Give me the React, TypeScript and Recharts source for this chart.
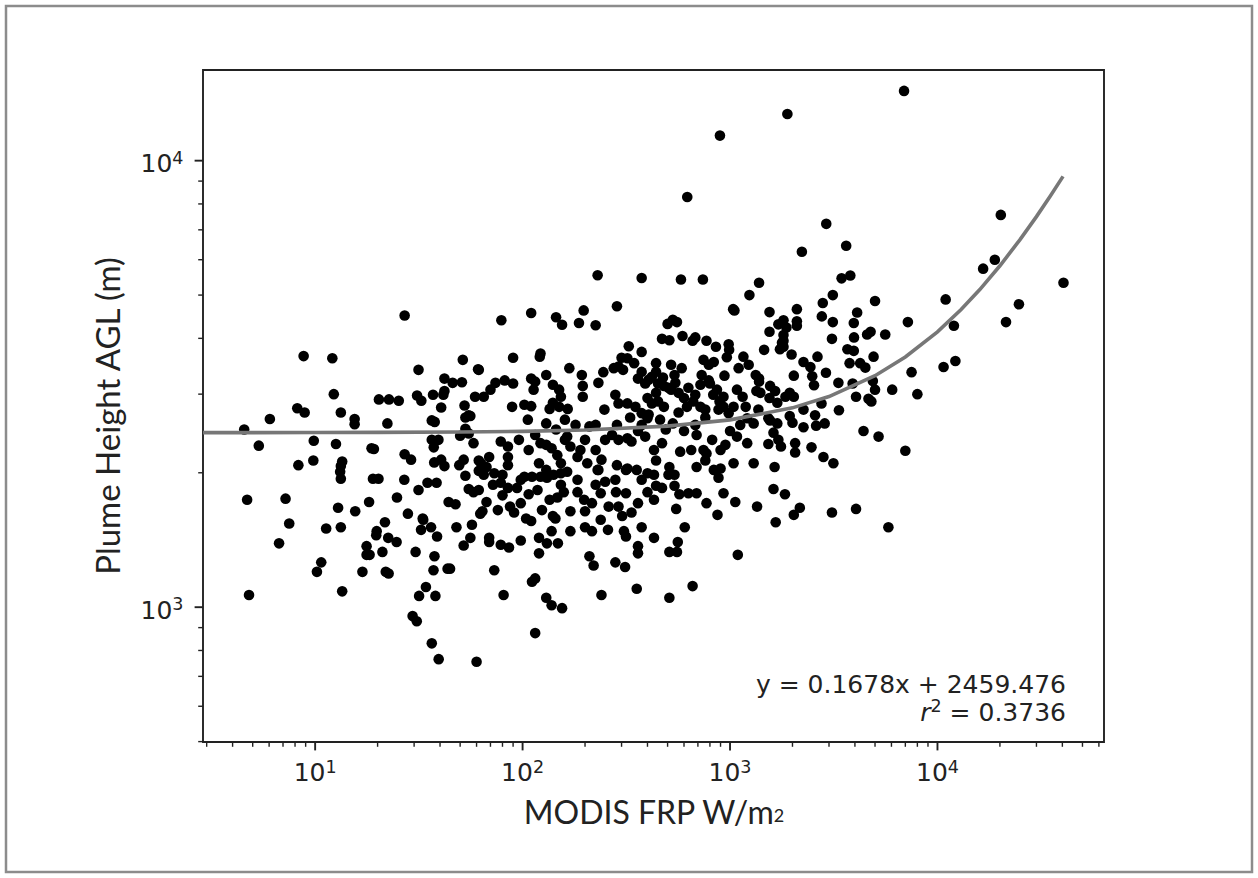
import { ScatterChart, Scatter, XAxis, YAxis, ReferenceArea } from "recharts"

// MODIS FRP (W/m2) vs plume height AGL (m)
const observations: [number, number][] = [
  [6900, 14330], [1890, 12720], [894, 11380], [622, 8290], [20200, 7560], [2910, 7220], [3630, 6450], [2220, 6250], [18900, 6000],
  [3450, 5450], [3800, 5530], [16600, 5730], [40500, 5330], [3130, 5000], [2800, 4800], [5000, 4850], [10950, 4890], [24700, 4770],
  [1550, 4580], [2100, 4650], [4100, 4570], [2770, 4480], [3130, 4350], [1810, 4390], [2100, 4370], [1710, 4300], [1870, 4230],
  [2100, 4270], [3950, 4330], [7200, 4350], [12000, 4270], [21400, 4350], [1550, 4140], [1810, 4070], [1810, 3950], [3100, 3990],
  [3960, 4020], [4580, 4080], [4760, 4140], [5600, 4080], [1460, 3770], [1740, 3780], [1810, 3830], [1780, 3910], [1980, 3680],
  [3680, 3780], [3950, 3750], [2640, 3640], [4920, 3640], [2260, 3540], [2440, 3450], [3770, 3520], [4240, 3520], [4490, 3440],
  [2030, 3300], [2490, 3290], [2540, 3140], [2900, 3350], [1380, 3250], [1340, 3050], [1400, 3020], [1560, 3130], [1650, 3050],
  [1940, 3020], [1850, 2960], [2030, 2960], [3330, 3180], [3900, 3170], [4880, 3210], [5000, 3070], [6050, 3070], [7500, 3360],
  [8000, 3000], [10700, 3450], [12200, 3560], [4050, 2960], [4650, 2930], [4800, 2890], [1690, 2870], [2760, 2860], [2260, 2770],
  [2570, 2690], [3350, 2760], [1530, 2650], [1560, 2620], [1690, 2580], [1940, 2680], [2000, 2590], [2260, 2530], [2600, 2550],
  [2860, 2580], [1620, 2460], [1710, 2370], [1760, 2290], [1530, 2320], [2060, 2330], [2060, 2220], [2470, 2280], [2820, 2170],
  [3150, 2100], [4400, 2480], [5200, 2410], [7000, 2240], [1640, 2060], [1620, 1840], [1840, 1790], [1660, 1550], [2030, 1610],
  [2170, 1670], [3100, 1630], [4050, 1660], [5800, 1510],
  [230, 5540], [375, 5460], [580, 5420], [740, 5420], [1380, 5330], [1240, 5000], [1035, 4650], [1050, 4620], [285, 4720],
  [197, 4620], [110, 4560], [79, 4390], [145, 4460], [155, 4290], [187, 4330], [225, 4280], [500, 4310], [530, 4400], [555, 4350],
  [470, 3990], [510, 3960], [590, 4050], [660, 3950], [680, 4020], [770, 3950], [855, 3830], [985, 3880], [990, 3770], [965, 3630],
  [325, 3840], [375, 3730], [300, 3620], [90, 3620], [122, 3700], [121, 3640], [61, 3410], [168, 3430], [193, 3310], [245, 3360],
  [232, 3180], [275, 3430], [290, 3460], [305, 3400], [345, 3520], [320, 3610], [440, 3520], [520, 3490], [585, 3430], [540, 3310],
  [745, 3580], [835, 3540], [790, 3490], [1160, 3640], [1100, 3430], [1230, 3490], [1330, 3310], [1380, 3200], [730, 3310],
  [790, 3220], [940, 3300], [82, 3220], [74, 3180], [70, 3070], [65, 2960], [55, 2690], [90, 3170], [110, 3250], [115, 3200],
  [113, 3070], [130, 3310], [140, 3150], [150, 3070], [153, 2960], [140, 2870], [195, 3130], [195, 2960], [89, 2810], [102, 2840],
  [110, 2820], [135, 2780], [150, 2810], [165, 2780], [248, 2770], [280, 2990], [290, 2860], [320, 2860], [350, 2810], [375, 2720],
  [360, 3250], [390, 3170], [420, 3280], [450, 3170], [480, 3130], [440, 3020], [400, 2940], [420, 2860], [450, 2890], [480, 2810],
  [400, 2650], [520, 3070], [565, 3020], [600, 2940], [620, 2810], [565, 2730], [665, 2890], [720, 2810], [760, 2770], [800, 3170],
  [865, 3070], [930, 2960], [890, 2890], [930, 2810], [985, 2720], [1040, 2810], [1080, 3070], [1150, 2960], [1190, 2810],
  [1210, 2650], [1300, 2580],
  [63, 2100], [69, 2170], [78.5, 2350], [85, 2290], [85, 2170], [96, 2370], [107, 2250], [122, 2330], [130, 2580], [138, 2270],
  [147, 2190], [153, 2100], [160, 2630], [164, 2410], [170, 2290], [184, 2170], [190, 2250], [205, 2100], [210, 2540], [225, 2560],
  [240, 2140], [270, 2430], [290, 2370], [320, 2390], [335, 2350], [360, 2480], [390, 2410], [430, 2250], [470, 2330], [490, 2500],
  [530, 2580], [575, 2230], [600, 2480], [690, 2430], [745, 2250], [770, 2210], [820, 2370], [900, 2250], [1000, 2480], [1080, 2410],
  [1210, 2330], [1300, 2100], [1040, 2100],
  [67, 2060], [65, 1980], [73, 1995], [80, 1980], [85, 2080], [72, 1880], [78.5, 1900], [85, 1850], [94, 1850], [102, 1960],
  [111, 1960], [122, 1960], [131, 1950], [141, 1980], [153, 1995], [164, 2010], [120, 2100], [230, 2030], [285, 2080], [320, 2045],
  [355, 2030], [400, 1995], [430, 1980], [510, 2060], [540, 1980], [690, 2060], [835, 2030], [900, 2045], [880, 1950],
  [67, 1720], [64, 1640], [76, 1650], [80, 1780], [87, 1680], [91, 1630], [98, 1710], [107, 1790], [104, 1580], [110, 1560],
  [118, 1830], [124, 1650], [135, 1740], [147, 1760], [140, 1600], [144, 1580], [158, 1810], [170, 1640], [184, 1930], [184, 1810],
  [198, 1740], [200, 1640], [216, 1710], [225, 1880], [238, 1800], [250, 1910], [260, 1680], [282, 1810], [290, 1680], [302, 1600],
  [315, 1800], [335, 1630], [360, 1710], [400, 1810], [430, 1740], [440, 1870], [470, 1850], [540, 1870], [550, 1660], [570, 1790],
  [630, 1800], [690, 1800], [770, 1710], [870, 1610], [930, 1800], [1060, 1720], [1350, 1680],
  [69, 1430], [69, 1400], [78.5, 1380], [86, 1360], [98, 1410], [120, 1430], [120, 1320], [131, 1390], [148, 1390], [138, 1480],
  [170, 1480], [200, 1510], [216, 1480], [238, 1570], [258, 1490], [308, 1480], [315, 1440], [375, 1510], [430, 1430], [360, 1370],
  [360, 1320], [210, 1300], [220, 1240], [280, 1260], [312, 1230], [510, 1330], [555, 1330], [560, 1400], [605, 1510], [1090, 1310],
  [73, 1210], [81, 1065], [111, 1140], [115, 1160], [130, 1050], [138, 1010], [155, 995], [115, 875], [240, 1065], [355, 1100],
  [510, 1050], [660, 1115],
  [27, 4500], [8.8, 3650], [12.1, 3610], [31.5, 3400], [51.5, 3580], [61.5, 3400], [42, 3250], [46, 3180], [51, 3190], [12.3, 3000],
  [20.3, 2920], [22.7, 2920], [25.3, 2900], [31, 2980], [32.5, 2900], [37, 2990], [41.5, 2990], [42, 3050], [40.5, 2800], [52.5, 2830],
  [59, 2960], [8.2, 2790], [8.9, 2730], [6.05, 2640], [4.55, 2500], [13.3, 2730], [15.5, 2640], [15.5, 2570], [22.3, 2580], [36.5, 2620],
  [37.7, 2600], [56, 2680], [53, 2660], [53, 2510], [55, 2450], [50, 2420], [5.35, 2300], [9.85, 2360], [12.6, 2320], [18.7, 2270],
  [19.2, 2260], [36.5, 2370], [39.3, 2370], [37.3, 2280], [58, 2330], [8.3, 2080], [9.8, 2130], [13.5, 2120], [13.3, 2070], [13.2, 2010],
  [13.3, 1940], [27, 2200], [29, 2140], [37.5, 2110], [40.5, 2140], [42, 2070], [52, 2140], [49.5, 2080], [53, 1970], [61.5, 2020],
  [61.5, 2130], [19, 1940], [20.2, 1940], [26.9, 1930], [34.8, 1900], [38.5, 1900], [31.5, 1830], [55, 1840], [58, 1810], [61.5, 1830],
  [4.7, 1740], [7.2, 1750], [18.2, 1720], [24.8, 1760], [44, 1720], [47.5, 1700], [12.9, 1670], [15.6, 1640], [28, 1620], [33, 1580],
  [7.5, 1540], [6.7, 1390], [11.3, 1500], [13.3, 1510], [21.7, 1550], [19.8, 1480], [19.7, 1450], [22.5, 1430], [24.7, 1400], [17.7, 1370],
  [17.7, 1310], [18.3, 1310], [21.1, 1330], [10.7, 1260], [10.2, 1200], [16.9, 1200], [21.9, 1200], [22.6, 1190], [13.5, 1085], [4.8, 1065],
  [33.2, 1570], [36.2, 1510], [32.4, 1490], [38.7, 1440], [30.5, 1330], [37.6, 1300], [37.2, 1210], [43.5, 1220], [44.7, 1220], [34.2, 1110],
  [31.7, 1060], [38, 1060], [29.5, 955], [30.9, 930], [36.5, 830], [39.4, 765], [60, 755], [48, 1510], [57, 1530], [56, 1430],
  [52, 1375], [62.5, 1620],
  // densest part of the cloud, 100-1500 W/m2
  [375, 3365], [405, 3230], [440, 3365], [475, 3270], [505, 3100], [545, 3180], [630, 3100], [680, 2990], [720, 3150], [830, 2990],
  [880, 2770], [760, 2660], [680, 2560], [460, 2630], [405, 2700], [375, 2560], [330, 2660], [285, 2560], [250, 2370], [225, 2250],
  [200, 2370], [180, 2560], [160, 2370], [145, 2500], [130, 2310], [115, 2430], [106, 2630], [315, 2030], [375, 1930], [440, 2130],
  [505, 1980], [280, 1930], [232, 2030], [153, 1880], [130, 2030], [98, 1930], [650, 2250], [760, 2130], [950, 2310], [1120, 2560],
  [1370, 2770], [1550, 2940],
]

// linear fit printed on the figure
const fitSlope = 0.1678
const fitIntercept = 2459.476
const fitR2 = 0.3736
const fitFrp = [2.88, 5, 10, 20, 50, 100, 200, 500, 1000, 2000, 3000, 5000, 7000, 10000, 13000, 16000, 20000, 25000, 30000, 35000, 40300]

const xMajorTicks = [10, 100, 1000, 10000]
const xMinorTicks = [3, 4, 5, 6, 7, 8, 9, 20, 30, 40, 50, 60, 70, 80, 90, 200, 300, 400, 500, 600, 700, 800, 900,
  2000, 3000, 4000, 5000, 6000, 7000, 8000, 9000, 20000, 30000, 40000, 50000, 60000]
const yMajorTicks = [1000, 10000]
const yMinorTicks = [500, 600, 700, 800, 900, 2000, 3000, 4000, 5000, 6000, 7000, 8000, 9000]

const xDomain = [2.88, 63500]
const yDomain = [499, 15960]

const scatterData = observations.map(([frp, height]) => ({ frp, height }))
const fitData = fitFrp.map((frp) => ({ frp, height: fitSlope * frp + fitIntercept }))

const ink = "#222222"
const tickFont = "DejaVu Sans"
const labelFont = "Lato"

function XTick(props: any) {
  const { x, y, payload } = props
  const major = xMajorTicks.includes(payload.value)
  return (
    <g>
      <line x1={x} x2={x} y1={y} y2={y + (major ? 8.4 : 4.8)} stroke={ink} strokeWidth={major ? 1.9 : 1.4} />
      {major && (
        <text x={x} y={y + 39} textAnchor="middle" fontFamily={tickFont} fontSize={25} fill={ink}>
          10<tspan dy={-8.5} fontSize={17.5}>{Math.round(Math.log10(payload.value))}</tspan>
        </text>
      )}
    </g>
  )
}

function YTick(props: any) {
  const { x, y, payload } = props
  const major = yMajorTicks.includes(payload.value)
  return (
    <g>
      <line x1={x - (major ? 8.4 : 4.8)} x2={x} y1={y} y2={y} stroke={ink} strokeWidth={major ? 1.9 : 1.4} />
      {major && (
        <text x={x - 19.5} y={y + 11.5} textAnchor="end" fontFamily={tickFont} fontSize={25} fill={ink}>
          10<tspan dy={-8.5} fontSize={17.5}>{Math.round(Math.log10(payload.value))}</tspan>
        </text>
      )}
    </g>
  )
}

const Dot = (props: any) => <circle cx={props.cx} cy={props.cy} r={5.3} fill="#000" />
const NoDot = () => <g />

export default function App() {
  return (
    <div style={{ position: "absolute", left: 0, top: 0, width: 1258, height: 878, background: "#fff" }}>
      <ScatterChart width={1258} height={878} margin={{ top: 70, right: 154, bottom: 135, left: 202 }}>
        <XAxis
          dataKey="frp"
          type="number"
          scale="log"
          domain={xDomain}
          allowDataOverflow
          ticks={[...xMinorTicks, ...xMajorTicks].sort((a, b) => a - b)}
          interval={0}
          height={1}
          tickSize={0}
          tickMargin={0}
          tickLine={false}
          axisLine={false}
          tick={<XTick />}
        />
        <YAxis
          dataKey="height"
          type="number"
          scale="log"
          domain={yDomain}
          allowDataOverflow
          ticks={[...yMinorTicks, ...yMajorTicks].sort((a, b) => a - b)}
          interval={0}
          width={1}
          tickSize={0}
          tickMargin={0}
          tickLine={false}
          axisLine={false}
          tick={<YTick />}
        />
        <ReferenceArea
          x1={xDomain[0]}
          x2={xDomain[1]}
          y1={yDomain[0]}
          y2={yDomain[1]}
          fill="none"
          stroke={ink}
          strokeWidth={1.9}
          ifOverflow="visible"
        />
        <Scatter data={scatterData} shape={Dot} isAnimationActive={false} />
        <Scatter
          data={fitData}
          shape={NoDot}
          line={{ stroke: "#777777", strokeWidth: 3.6 }}
          lineType="joint"
          isAnimationActive={false}
        />
      </ScatterChart>
      <svg width={1258} height={878} style={{ position: "absolute", left: 0, top: 0, pointerEvents: "none" }}>
        <rect x={6} y={6} width={1246} height={866} fill="none" stroke="#8c8c8c" strokeWidth={2.5} />
        <text x={1066} y={692.5} textAnchor="end" fontFamily={tickFont} fontSize={25} fill={ink}>
          {`y = ${fitSlope}x + ${fitIntercept}`}
        </text>
        <text x={1066} y={720.5} textAnchor="end" fontFamily={tickFont} fontSize={25} fill={ink}>
          <tspan fontStyle="italic">r</tspan>
          <tspan dy={-8.5} fontSize={17.5}>2</tspan>
          <tspan dy={8.5}>{` = ${fitR2}`}</tspan>
        </text>
        <text x={654} y={824} textAnchor="middle" fontFamily={labelFont} fontSize={32} fill={ink}>
          MODIS FRP W/m<tspan fontSize={18} dy={-2}>2</tspan>
        </text>
        <text
          x={120}
          y={416}
          transform="rotate(-90 120 416)"
          textAnchor="middle"
          fontFamily={labelFont}
          fontSize={33}
          fill={ink}
        >
          Plume Height AGL (m)
        </text>
      </svg>
    </div>
  )
}
